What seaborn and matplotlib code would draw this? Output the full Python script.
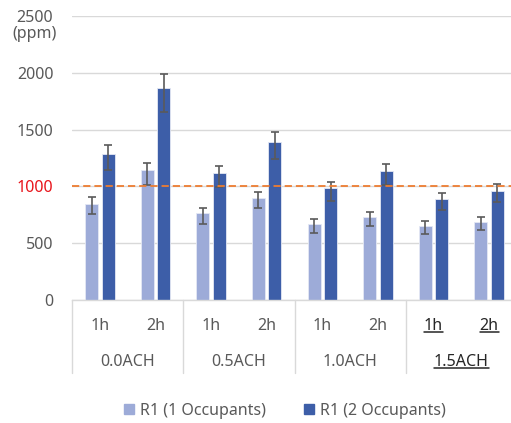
import numpy as np
import pandas as pd
import seaborn as sns
import matplotlib.pyplot as plt
import matplotlib.transforms as mtransforms
from matplotlib.patches import Patch
from matplotlib.lines import Line2D

# ---- data ----
groups = ["0.0ACH", "0.5ACH", "1.0ACH", "1.5ACH"]
hours = ["1h", "2h"]
series = ["R1 (1 Occupants)", "R1 (2 Occupants)"]
occ1 = [847, 1141, 762, 897, 671, 733, 648, 683]
occ1_up = [59, 68, 44, 53, 44, 44, 44, 47]
occ1_dn = [88, 129, 91, 91, 80, 83, 68, 65]
occ2 = [1286, 1868, 1115, 1394, 986, 1133, 891, 962]
occ2_up = [82, 118, 68, 83, 55, 67, 53, 59]
occ2_dn = [139, 212, 120, 150, 115, 123, 102, 103]
threshold = 1000
yticks = [0, 500, 1000, 1500, 2000, 2500]

light = "#9DABD8"
dark = "#3D5EA8"
txt = "#595959"
grid = "#D9D9D9"

sns.set_theme(style="white")
plt.rcParams['font.family'] = ['Noto Sans', 'DejaVu Sans']

cats = [f"{g}|{h}" for g in groups for h in hours]
df = pd.DataFrame({
    "cat": cats * 2,
    "series": [series[0]] * len(cats) + [series[1]] * len(cats),
    "value": occ1 + occ2,
})

W, H = 511, 423
fig = plt.figure(figsize=(W / 100, H / 100), dpi=100)
ax = fig.add_axes([72 / W, (H - 300) / H, 445 / W, 284 / H])

sns.barplot(data=df, x="cat", y="value", hue="series", order=cats,
            hue_order=series, palette=[light, dark], width=0.594, gap=0.21,
            errorbar=None, legend=False, ax=ax, edgecolor="#E4E8F4",
            linewidth=0.6, saturation=1)

for cont, up, dn in zip(ax.containers, [occ1_up, occ2_up], [occ1_dn, occ2_dn]):
    xs = [p.get_x() + p.get_width() / 2 for p in cont]
    ys = [p.get_height() for p in cont]
    ax.errorbar(xs, ys, yerr=[dn, up], fmt="none", ecolor="#5A5A5A",
                elinewidth=1.2, capsize=3.2, capthick=1.2, zorder=4)

ax.axhline(threshold, color="#ED7D31", lw=1.3, ls=(0, (4, 2.2)), zorder=5)

ax.set_ylim(0, 2500)
ax.set_xlim(-0.5, len(cats) - 0.5)
ax.set_yticks(yticks)
ax.set_yticklabels([str(v) for v in yticks])
ax.yaxis.grid(True, color=grid, lw=1)
ax.set_axisbelow(True)
for s in ["top", "right", "left"]:
    ax.spines[s].set_visible(False)
ax.spines["bottom"].set_color(grid)
ax.spines["bottom"].set_linewidth(1)
ax.set_xlabel("")
ax.set_ylabel("")

ax.tick_params(axis="y", length=0, pad=13.5, labelsize=11.5, labelcolor=txt)
for lab in ax.get_yticklabels():
    if lab.get_text() == str(threshold):
        lab.set_color("#E8141B")
        lab.set_fontweight("bold")

ax.annotate("(ppm)", xy=(0, 2500), xycoords=("axes fraction", "data"),
            xytext=(-37, -18), textcoords="offset pixels", ha="center",
            va="center", fontsize=11.5, color=txt)

ax.set_xticks(range(len(cats)))
ax.set_xticklabels(hours * len(groups))
ax.tick_params(axis="x", length=0, pad=13, labelsize=11.5, labelcolor=txt)
xlabs = ax.get_xticklabels()
for lab in xlabs[-2:]:
    lab.set_fontweight("bold")
    lab.set_color("#262626")

blend = mtransforms.blended_transform_factory(ax.transData, ax.transAxes)
sep_bottom = -(373 - 300) / 284
for i in range(len(groups) + 1):
    x = 2 * i - 0.5
    ax.add_line(Line2D([x, x], [0, sep_bottom], transform=blend, color=grid,
                       lw=1, clip_on=False))

glabs = []
for i, g in enumerate(groups):
    last = i == len(groups) - 1
    t = ax.text(2 * i + 0.5, -(362 - 300) / 284, g, transform=blend,
                ha="center", va="center", fontsize=11.5,
                color="#262626" if last else txt,
                fontweight="bold" if last else "normal")
    glabs.append(t)

fig.legend(handles=[Patch(color=light), Patch(color=dark)], labels=series,
           loc="center", bbox_to_anchor=(285 / W, 12 / H), ncol=2,
           frameon=False, fontsize=11.5, handlelength=0.6, handleheight=0.6,
           handletextpad=0.4, columnspacing=2.4, labelcolor=txt)

# underline for emphasised labels
fig.canvas.draw()
r = fig.canvas.get_renderer()
for t in list(xlabs[-2:]) + [glabs[-1]]:
    bb = t.get_window_extent(r)
    y = bb.y0 + 2.5
    fig.add_artist(Line2D([bb.x0 / W, bb.x1 / W], [y / H, y / H],
                          transform=fig.transFigure, color="#262626", lw=1.1))

fig.savefig("out.png", dpi=100)
